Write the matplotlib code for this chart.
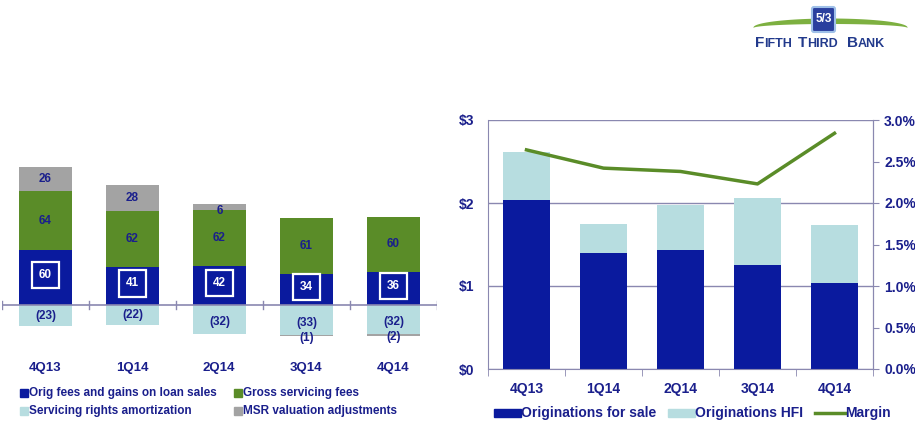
import matplotlib
matplotlib.use("Agg")
import matplotlib.pyplot as plt
import numpy as np
from matplotlib.patches import Rectangle, FancyBboxPatch

quarters = ["4Q13", "1Q14", "2Q14", "3Q14", "4Q14"]
# left chart (mortgage banking net revenue components, $M)
orig_fees = [60, 41, 42, 34, 36]
gross_servicing = [64, 62, 62, 61, 60]
msr_valuation = [26, 28, 6, -1, -2]
servicing_amort = [-23, -22, -32, -33, -32]
# right chart (originations $B, margin %)
orig_for_sale = [2.04, 1.40, 1.43, 1.25, 1.04]
orig_hfi = [0.57, 0.35, 0.55, 0.81, 0.69]
margin = [2.64, 2.42, 2.38, 2.23, 2.84]

NAVY = "#1A1F8C"
BLUE = "#0A1A9E"
GREEN = "#5A8C28"
LIGHT = "#B7DDE0"
GRAY = "#A3A3A3"
AXC = "#8A88B0"

plt.rcParams['font.family'] = ['Liberation Sans', 'DejaVu Sans']
fig = plt.figure(figsize=(9.15, 4.21), dpi=100)
W, H = 915, 421

def px_axes(x0, y0, x1, y1):
    return fig.add_axes([x0 / W, 1 - y1 / H, (x1 - x0) / W, (y1 - y0) / H])

# ---------------- Left chart ----------------
axL = px_axes(2, 100, 437, 345)
x = np.arange(len(quarters))
bw = 0.6
axL.bar(x, orig_fees, bw, color=BLUE, zorder=2)
axL.bar(x, gross_servicing, bw, bottom=orig_fees, color=GREEN, zorder=2)
pos_msr = [max(v, 0) for v in msr_valuation]
neg_msr = [min(v, 0) for v in msr_valuation]
top2 = [a + b for a, b in zip(orig_fees, gross_servicing)]
axL.bar(x, pos_msr, bw, bottom=top2, color=GRAY, zorder=2)
axL.bar(x, servicing_amort, bw, color=LIGHT, zorder=2)
axL.bar(x, neg_msr, bw, bottom=servicing_amort, color=GRAY, zorder=2)
axL.set_xlim(-0.5, len(quarters) - 0.5)
axL.set_ylim(-43.6, 223.5)
axL.axhline(0, color=AXC, lw=1.2, zorder=3)
for b in np.arange(-0.5, len(quarters), 1.0):
    axL.plot([b, b], [-4, 4], color=AXC, lw=1.0, zorder=3)
axL.axis('off')

lbl = dict(ha='center', va='center', color=NAVY, fontsize=8.5, fontweight='bold', zorder=5)
for i in range(len(quarters)):
    axL.text(x[i], orig_fees[i] / 2 + 3, f"{orig_fees[i]}", color='white', ha='center', va='center',
             fontsize=8.5, fontweight='bold', zorder=5,
             bbox=dict(boxstyle='square,pad=0.6', fc='none', ec='white', lw=1.6))
    axL.text(x[i], orig_fees[i] + gross_servicing[i] / 2, f"{gross_servicing[i]}", **lbl)
    if msr_valuation[i] > 0:
        ypos = top2[i] + msr_valuation[i] / 2 if msr_valuation[i] > 10 else top2[i] - 1
        axL.text(x[i], ypos, f"{msr_valuation[i]}", **lbl)
    axL.text(x[i], servicing_amort[i] / 2 - (3 if servicing_amort[i] < -30 else 0),
             f"({-servicing_amort[i]})", **lbl)
    if msr_valuation[i] < 0:
        axL.text(x[i], servicing_amort[i] - 3, f"({-msr_valuation[i]})", **lbl)

for i, q in enumerate(quarters):
    fig.text((45 + 87 * i) / W, 1 - 368 / H, q, ha='center', va='center', color=NAVY,
             fontsize=9.5, fontweight='bold')

def sq_legend(xp, yp, color, label, size=8.5):
    fig.patches.append(Rectangle((xp / W, 1 - (yp + 4) / H), 8 / W, 8 / H,
                                 transform=fig.transFigure, color=color, figure=fig))
    fig.text((xp + 9) / W, 1 - yp / H, label, ha='left', va='center', color=NAVY,
             fontsize=size, fontweight='bold')

sq_legend(20, 393, BLUE, "Orig fees and gains on loan sales")
sq_legend(234, 393, GREEN, "Gross servicing fees")
sq_legend(20, 411, LIGHT, "Servicing rights amortization")
sq_legend(234, 411, GRAY, "MSR valuation adjustments")

# ---------------- Right chart ----------------
axR = px_axes(488, 120, 873, 369)
axR.bar(x, orig_for_sale, bw, color=BLUE, zorder=2)
axR.bar(x, orig_hfi, bw, bottom=orig_for_sale, color=LIGHT, zorder=2)
axR.set_xlim(-0.5, len(quarters) - 0.5)
axR.set_ylim(0, 3)
axR.set_yticks([0, 1, 2, 3])
axR.set_yticklabels(["$0", "$1", "$2", "$3"])
axR.yaxis.grid(True, color=AXC, lw=1.0, zorder=0)
axR.set_axisbelow(True)
axR.set_xticks(x)
axR.set_xticklabels(quarters)
axR.set_xticks(np.arange(-0.5, len(quarters), 1.0), minor=True)
axR.tick_params(axis='x', which='major', length=0, pad=9)
axR.tick_params(axis='x', which='minor', length=5, color=AXC, direction='out')
axR.tick_params(axis='y', length=0, pad=10)
axR.spines['top'].set_visible(False)
for sp in ['left', 'bottom', 'right']:
    axR.spines[sp].set_color(AXC)
for t in axR.get_xticklabels() + axR.get_yticklabels():
    t.set_color(NAVY)
    t.set_fontweight('bold')
    t.set_fontsize(10)

ax2 = axR.twinx()
ax2.plot(x, margin, color=GREEN, lw=2.5, zorder=4)
ax2.set_ylim(0, 3.0)
ax2.set_yticks(np.arange(0, 3.01, 0.5))
ax2.set_yticklabels([f"{v:.1f}%" for v in np.arange(0, 3.01, 0.5)])
ax2.tick_params(axis='y', length=4, color=AXC, pad=4)
for sp in ['top', 'left', 'bottom']:
    ax2.spines[sp].set_visible(False)
ax2.spines['right'].set_color(AXC)
for t in ax2.get_yticklabels():
    t.set_color(NAVY)
    t.set_fontweight('bold')
    t.set_fontsize(10)

# right legend
def rect_legend(xp, yp, color, label):
    fig.patches.append(Rectangle((xp / W, 1 - (yp + 4) / H), 27 / W, 8 / H,
                                 transform=fig.transFigure, color=color, figure=fig))
    fig.text((xp + 27) / W, 1 - yp / H, label, ha='left', va='center', color=NAVY,
             fontsize=10, fontweight='bold')

rect_legend(494, 413, BLUE, "Originations for sale")
rect_legend(668, 413, LIGHT, "Originations HFI")
fig.lines.append(plt.Line2D([815 / W, 845 / W], [1 - 413 / H, 1 - 413 / H], color=GREEN, lw=2.5,
                            transform=fig.transFigure))
fig.text(845 / W, 1 - 413 / H, "Margin", ha='left', va='center', color=NAVY,
         fontsize=10, fontweight='bold')

# ---------------- Logo ----------------
axLogo = px_axes(745, 0, 915, 60)
axLogo.set_xlim(0, 170)
axLogo.set_ylim(60, 0)
axLogo.axis('off')
th = np.linspace(0, np.pi, 120)
xs = 8 + 154 * (1 - np.cos(th)) / 2
axLogo.fill_between(xs, 27 - 9 * np.sin(th), 27.5 - 4 * np.sin(th), color="#7DB040", lw=0)
axLogo.add_patch(FancyBboxPatch((67, 7), 23, 25, boxstyle='round,pad=0,rounding_size=2',
                                fc="#2A3F9E", ec="#9FC0E8", lw=1.5, zorder=3))
axLogo.text(78.5, 19, "5/3", color='white', ha='center', va='center', fontsize=8.5,
            fontweight='bold', zorder=4)
LC = "#223A8C"
for xp, big, small, off in [(10, "F", "IFTH", 9.5), (53, "T", "HIRD", 9.5), (102, "B", "ANK", 11)]:
    axLogo.text(xp, 47, big, color=LC, fontsize=11, fontweight='bold', va='baseline', ha='left')
    axLogo.text(xp + off, 47, small, color=LC, fontsize=9,
                fontweight='bold', va='baseline', ha='left')

fig.savefig("out.png", dpi=100)
